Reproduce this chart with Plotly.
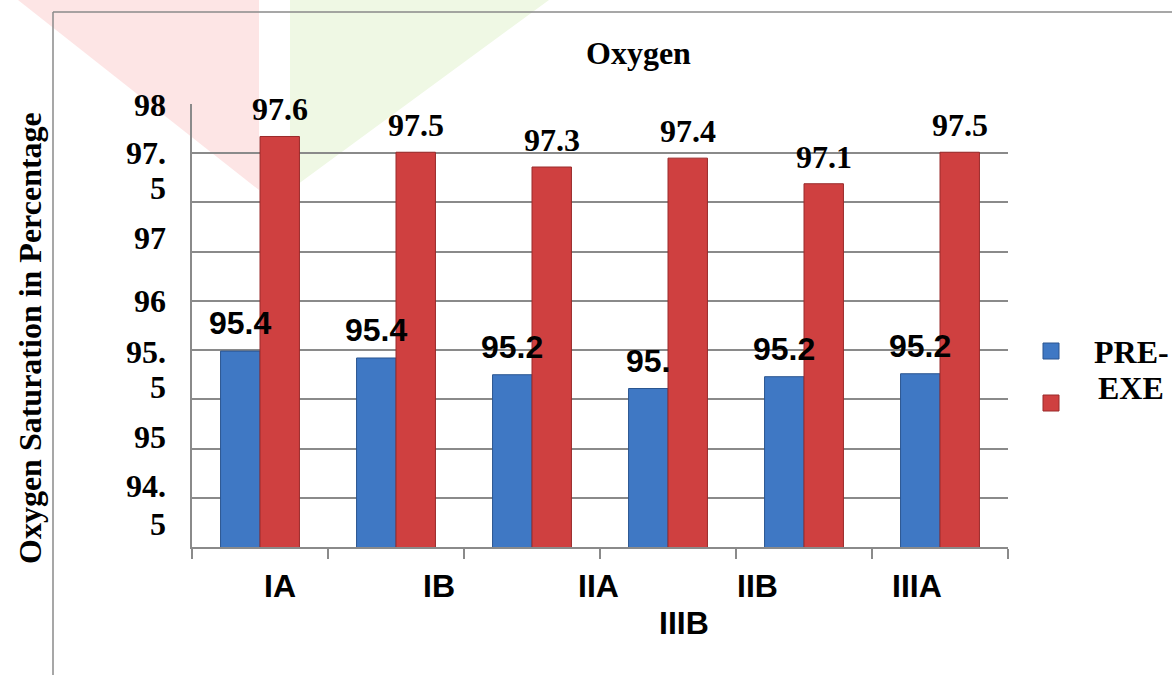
import plotly.graph_objects as go

# ---------------- data ----------------
categories = ["IA", "IB", "IIA", "IIB", "IIIA", "IIIB"]
pre_exe = [95.49, 95.42, 95.25, 95.11, 95.23, 95.26]
post_exe = [97.67, 97.51, 97.36, 97.45, 97.19, 97.51]
pre_labels = ["95.4", "95.4", "95.2", "95.", "95.2", "95.2"]
post_labels = ["97.6", "97.5", "97.3", "97.4", "97.1", "97.5"]
y_ticks = [93.5, 94, 94.5, 95, 95.5, 96, 96.5, 97, 97.5, 98]
ytick_text = ["98", "97.", "5", "97", "96", "95.", "5", "95", "94.", "5"]
xlabel_row1 = ["IA", "IB", "IIA", "IIB", "IIIA"]
xlabel_row2 = ["IIIB"]

# ---------------- layout geometry (pixels) ----------------
FW, FH = 1172, 675
L, R, T, B = 192, 1008, 104, 547


def px(x):
    return (x - L) / (R - L)


def py(y):
    return (B - y) / (B - T)


ytick_py = [105, 153, 188, 238, 301, 352, 387, 437, 486, 524]

BLUE = "#3f78c4"
RED = "#cf4040"
SERIF = "Liberation Serif"
SANS = "Liberation Sans"
FS = 32

fig = go.Figure()
fig.add_trace(go.Bar(x=categories, y=pre_exe, name="PRE-EXE",
                     marker=dict(color=BLUE, line=dict(color="#2a5590", width=1)),
                     showlegend=False))
fig.add_trace(go.Bar(x=categories, y=post_exe, name="POST-EXE",
                     marker=dict(color=RED, line=dict(color="#9a2a2a", width=1)),
                     showlegend=False))

ann = []
bar_unit_px = (R - L) / len(categories)
off = 0.145 * bar_unit_px
for c, v, t in zip(categories, pre_exe, pre_labels):
    ann.append(dict(x=c, y=v, xref="x", yref="y", text=t, showarrow=False,
                    xshift=-off, yshift=28, yanchor="middle",
                    font=dict(family=SANS, size=FS, color="black", weight="bold")))
for c, v, t in zip(categories, post_exe, post_labels):
    ann.append(dict(x=c, y=v, xref="x", yref="y", text=t, showarrow=False,
                    xshift=off, yshift=27, yanchor="middle",
                    font=dict(family=SERIF, size=FS, color="black", weight="bold")))

# y tick labels (wrapped as in the original)
for t, yy in zip(ytick_text, ytick_py):
    ann.append(dict(x=px(168), y=py(yy), xref="paper", yref="paper", text=t,
                    showarrow=False, xanchor="right", yanchor="middle",
                    font=dict(family=SERIF, size=FS, color="black", weight="bold")))

# x labels (wrapped title-like text)
for i, t in enumerate(xlabel_row1):
    ann.append(dict(x=px(280 + 159.3 * i), y=py(586), xref="paper", yref="paper",
                    text=t, showarrow=False, xanchor="center", yanchor="middle",
                    font=dict(family=SANS, size=FS, color="black", weight="bold")))
for t in xlabel_row2:
    ann.append(dict(x=px(684), y=py(623), xref="paper", yref="paper",
                    text=t, showarrow=False, xanchor="center", yanchor="middle",
                    font=dict(family=SANS, size=FS, color="black", weight="bold")))

# chart title
ann.append(dict(x=px(638), y=py(53), xref="paper", yref="paper", text="Oxygen",
                showarrow=False, xanchor="center", yanchor="middle",
                font=dict(family=SERIF, size=FS, color="black", weight="bold")))
# y axis title
ann.append(dict(x=px(30), y=py(338), xref="paper", yref="paper",
                text="Oxygen Saturation in Percentage", textangle=-90,
                showarrow=False, xanchor="center", yanchor="middle",
                font=dict(family=SERIF, size=FS, color="black", weight="bold")))
# legend text
ann.append(dict(x=px(1131), y=py(352), xref="paper", yref="paper", text="PRE-",
                showarrow=False, xanchor="center", yanchor="middle",
                font=dict(family=SERIF, size=FS, color="black", weight="bold")))
ann.append(dict(x=px(1131), y=py(388), xref="paper", yref="paper", text="EXE",
                showarrow=False, xanchor="center", yanchor="middle",
                font=dict(family=SERIF, size=FS, color="black", weight="bold")))

shapes = []
# faint watermark patches
shapes.append(dict(type="path", xref="paper", yref="paper", layer="below",
                   path=f"M {px(18)} {py(0)} L {px(259)} {py(0)} L {px(259)} {py(190)} Z",
                   fillcolor="#fde5e5", line=dict(width=0)))
shapes.append(dict(type="path", xref="paper", yref="paper", layer="below",
                   path=f"M {px(290)} {py(0)} L {px(549)} {py(0)} L {px(290)} {py(190)} Z",
                   fillcolor="#eff8e4", line=dict(width=0)))
# chart-area border (left and top)
shapes.append(dict(type="line", xref="paper", yref="paper",
                   x0=px(53), x1=px(53), y0=py(12), y1=py(675),
                   line=dict(color="#8a8a8a", width=1.5)))
shapes.append(dict(type="line", xref="paper", yref="paper",
                   x0=px(53), x1=px(1172), y0=py(12), y1=py(12),
                   line=dict(color="#8a8a8a", width=1.5)))
# legend keys
shapes.append(dict(type="rect", xref="paper", yref="paper",
                   x0=px(1043), x1=px(1059), y0=py(359), y1=py(343),
                   fillcolor=BLUE, line=dict(color="#2a5590", width=1)))
shapes.append(dict(type="rect", xref="paper", yref="paper",
                   x0=px(1043), x1=px(1059), y0=py(411), y1=py(395),
                   fillcolor=RED, line=dict(color="#9a2a2a", width=1)))

fig.update_layout(
    width=FW, height=FH,
    margin=dict(l=L, r=FW - R, t=T, b=FH - B, pad=0),
    paper_bgcolor="white", plot_bgcolor="white",
    barmode="group", bargap=0.42, bargroupgap=0,
    annotations=ann, shapes=shapes,
    xaxis=dict(showticklabels=False, showgrid=False, showline=True,
               linecolor="#8a8a8a", linewidth=1.5, ticks="outside",
               tickson="boundaries", ticklen=10, tickcolor="#8a8a8a",
               tickwidth=1.5),
    yaxis=dict(range=[93.5, 98], tickvals=y_ticks, showticklabels=False,
               showgrid=True, gridcolor="#8a8a8a", gridwidth=1.5,
               showline=True, linecolor="#8a8a8a", linewidth=1.5,
               zeroline=False, ticks=""),
)

fig.write_html("out.html", config={"displayModeBar": False},
               post_script="document.body.style.margin='0';document.body.style.overflow='hidden';")
